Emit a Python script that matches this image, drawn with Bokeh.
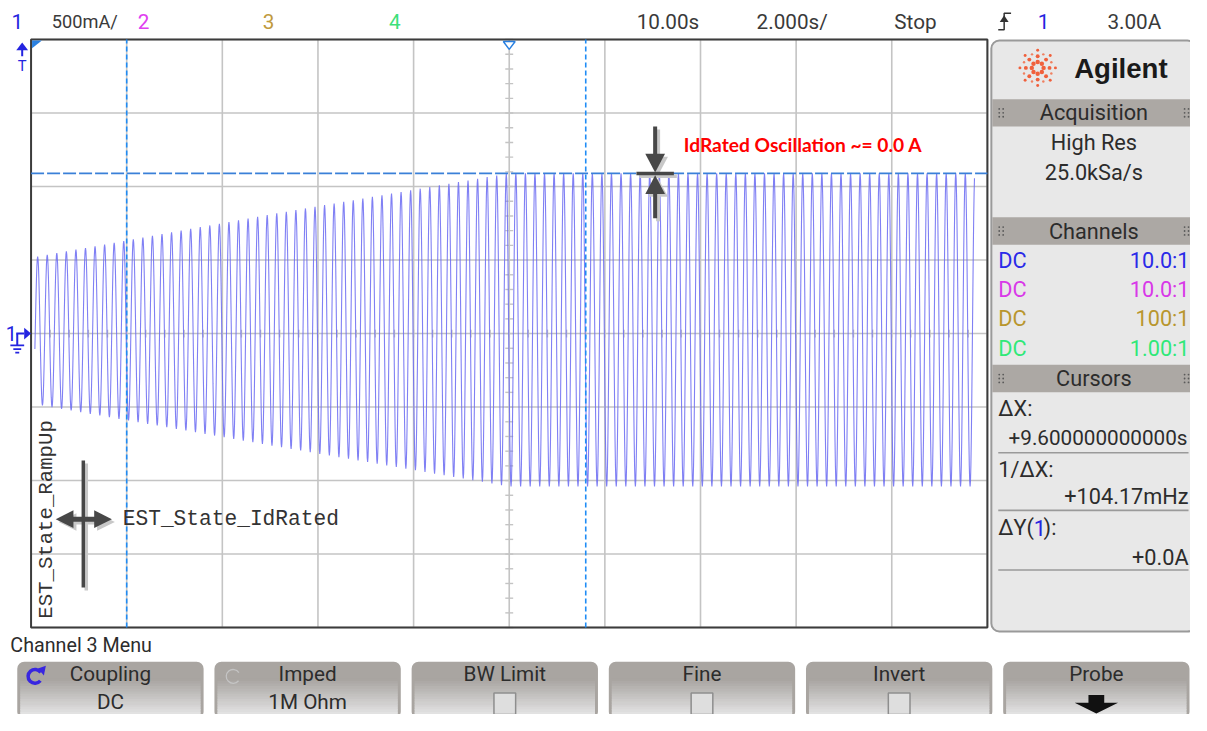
import numpy as np
from bokeh.plotting import figure
from bokeh.models import Range1d
from bokeh.core.properties import value
from bokeh.embed import file_html
from bokeh.resources import INLINE

# ---------------- values ----------------
time_per_div_s = 2.0
amp_per_div_A = 0.5
grid_time_s = [0, 2, 4, 6, 8, 10, 12, 14, 16, 18, 20]
grid_amp_A = [-2.0, -1.5, -1.0, -0.5, 0.0, 0.5, 1.0, 1.5, 2.0]
env_time_s = [0.08, 5.0, 10.0, 19.73]
env_top_A = [0.52, 0.81, 1.09, 1.09]
env_bot_A = [-0.48, -0.76, -1.04, -1.04]
osc_freq_Hz = 5.0
first_peak_s = 0.138
cursor_x_s = [2.0, 11.6]
cursor_y_A = 1.09

top_labels = ["1", "500mA/", "2", "3", "4", "10.00s", "2.000s/", "Stop", "1", "3.00A"]
top_colors = ["#2424e0", "#3a3a3a", "#e040f0", "#c09a3c", "#3ce07a",
              "#3a3a3a", "#3a3a3a", "#3a3a3a", "#2424e0", "#3a3a3a"]
ch_coupling = ["DC", "DC", "DC", "DC"]
ch_probe = ["10.0:1", "10.0:1", "100:1", "1.00:1"]
ch_colors = ["#2a2ae8", "#d838e8", "#b8962e", "#30e878"]
cursor_rows = ["\u0394X:", "+9.600000000000s", "1/\u0394X:", "+104.17mHz", "+0.0A"]
btn_titles = ["Coupling", "Imped", "BW Limit", "Fine", "Invert", "Probe"]
btn_values = ["DC", "1M Ohm", "", "", "", ""]
annot_state1 = "EST_State_RampUp"
annot_state2 = "EST_State_IdRated"
annot_osc = "IdRated Oscillation ~= 0.0 A"

# ---------------- figure / coordinate systems ----------------
W, H = 1190, 714
REFW, REFH = 1207, 731
SC = W / REFW
X0PX, PXPERS = 31.0, 48.5      # grid left edge, pixels per second
Y0PX, PXPERA = 341.0, 150.5    # zero line, pixels per ampere

def fs(n):
    return f"{n*SC:.1f}px"

p = figure(width=W, height=H, output_backend="svg", toolbar_location=None,
           x_range=Range1d(-X0PX / PXPERS, (REFW - X0PX) / PXPERS),
           y_range=Range1d(-(REFH - Y0PX) / PXPERA, Y0PX / PXPERA),
           x_axis_location=None, y_axis_location=None, min_border=0)
p.extra_x_ranges = {"px": Range1d(0, REFW)}
p.extra_y_ranges = {"px": Range1d(REFH, 0)}
p.outline_line_color = None
p.xgrid.visible = False
p.ygrid.visible = False
p.background_fill_color = "white"
p.border_fill_color = "white"
PX = dict(x_range_name="px", y_range_name="px")

SANS = value("Roboto")
MONO = value("Liberation Mono")

def txt(x, y, s, size, color="#333333", align="left", base="middle", font=SANS,
        style="normal", angle=0):
    p.text(x=[x], y=[y], text=[s], text_font=font, text_font_size=fs(size),
           text_color=color, text_align=align, text_baseline=base,
           text_font_style=style, angle=angle, **PX)

# ---------------- graticule ----------------
t0, t1 = grid_time_s[0], grid_time_s[-1]
a0, a1 = grid_amp_A[0], grid_amp_A[-1]
p.segment(x0=grid_time_s, y0=[a0]*len(grid_time_s), x1=grid_time_s, y1=[a1]*len(grid_time_s),
          line_color="#c4c4c4", line_width=1.6)
p.segment(x0=[t0]*len(grid_amp_A), y0=grid_amp_A, x1=[t1]*len(grid_amp_A), y1=grid_amp_A,
          line_color="#c4c4c4", line_width=1.6)
# minor ticks on the centre lines
tc = (t0 + t1) / 2
minor_a = np.arange(a0, a1 + 1e-9, amp_per_div_A / 5)
p.segment(x0=tc - 4/PXPERS, y0=minor_a, x1=tc + 4/PXPERS, y1=minor_a, line_color="#c4c4c4", line_width=1.4)
minor_t = np.arange(t0, t1 + 1e-9, time_per_div_s / 5)
p.segment(x0=minor_t, y0=-4/PXPERA, x1=minor_t, y1=4/PXPERA, line_color="#c4c4c4", line_width=1.4)
# border
p.quad(left=[t0], right=[t1], bottom=[a0], top=[a1], fill_color=None,
       line_color="#3c3c3c", line_width=2)

# ---------------- waveform (channel 1) ----------------
t = np.arange(env_time_s[0], env_time_s[-1], 1 / (osc_freq_Hz * 24))
top = np.interp(t, env_time_s, env_top_A)
bot = np.interp(t, env_time_s, env_bot_A)
sig = (top + bot) / 2 + (top - bot) / 2 * np.cos(2 * np.pi * osc_freq_Hz * (t - first_peak_s))
p.line(t, sig, line_color="#6a6af2", line_width=1.1, line_alpha=0.85)

# ---------------- cursors ----------------
p.segment(x0=cursor_x_s, y0=[a0, a0], x1=cursor_x_s, y1=[a1, a1],
          line_color="#1f8cf5", line_width=1.6, line_dash="5 3")
p.segment(x0=[t0], y0=[cursor_y_A], x1=[t1], y1=[cursor_y_A],
          line_color="#3a80d8", line_width=1.6, line_dash="13 3")

# ---------------- top status bar ----------------
top_x = [17, 52, 145, 272, 400, 677, 803, 928, 1058, 1150]
top_al = ["center", "left", "center", "center", "center", "center", "center", "center", "center", "center"]
top_sz = [21, 18.5, 21, 21, 21, 21, 21, 21, 21, 21]
for s, c, x, al, sz in zip(top_labels, top_colors, top_x, top_al, top_sz):
    txt(x, 22, s, sz, color=c, align=al)
# trigger edge symbol
p.line(x=[1012, 1018, 1018, 1025], y=[30, 30, 13, 13], line_color="#333333", line_width=1.5, **PX)
p.patch(x=[1013.5, 1022.5, 1018], y=[22, 22, 15], fill_color="#333333", line_color=None, **PX)

# ---------------- markers on the graticule ----------------
# trigger level arrow + "T"
p.patch(x=[16, 28, 22], y=[51, 51, 43], fill_color="#2424e0", line_color=None, **PX)
p.segment(x0=[22], y0=[50], x1=[22], y1=[57], line_color="#2424e0", line_width=2, **PX)
txt(22, 67, "T", 15, color="#2424e0", align="center")
# time reference
p.patch(x=[32, 42, 32], y=[41, 41, 49], fill_color="#2a80e0", line_color=None, **PX)
# trigger position (hollow triangle)
p.patch(x=[510, 522, 516], y=[42, 42, 50], fill_color="white", line_color="#2a80e0", line_width=1.5, **PX)
# channel 1 ground marker
txt(11, 341, "1", 20, color="#2424e0", align="center")
p.segment(x0=[16], y0=[341], x1=[24], y1=[341], line_color="#2424e0", line_width=2, **PX)
p.patch(x=[24, 24, 31], y=[335, 347, 341], fill_color="#2424e0", line_color=None, **PX)
p.segment(x0=[17], y0=[341], x1=[17], y1=[353], line_color="#2424e0", line_width=2, **PX)
p.segment(x0=[10, 13, 15], y0=[353, 357, 360.5], x1=[24, 21, 19], y1=[353, 357, 360.5],
          line_color="#2424e0", line_width=1.8, **PX)

# ---------------- annotations ----------------
txt(47, 633, annot_state1, 21, color="#333333", font=MONO, angle=np.pi/2)
txt(124, 531, annot_state2, 21.5, color="#333333", font=MONO)
# double horizontal arrow with vertical bar (shadow + dark)
for dx, col in [(3, "#c8c8c8"), (0, "#474747")]:
    p.segment(x0=[84+dx], y0=[471+dx], x1=[84+dx], y1=[601+dx], line_color=col, line_width=3.5, **PX)
    p.segment(x0=[70+dx], y0=[531+dx], x1=[100+dx], y1=[531+dx], line_color=col, line_width=5, **PX)
    p.patch(x=[56+dx, 74+dx, 74+dx], y=[531+dx, 522+dx, 540+dx], fill_color=col, line_color=None, **PX)
    p.patch(x=[113+dx, 95+dx, 95+dx], y=[531+dx, 522+dx, 540+dx], fill_color=col, line_color=None, **PX)
# vertical pinch arrows at the horizontal cursor
for dx, col in [(3, "#c8c8c8"), (0, "#474747")]:
    p.segment(x0=[664+dx], y0=[129+dx], x1=[664+dx], y1=[160+dx], line_color=col, line_width=4, **PX)
    p.patch(x=[654+dx, 674+dx, 664+dx], y=[157+dx, 157+dx, 176+dx], fill_color=col, line_color=None, **PX)
    p.segment(x0=[645+dx], y0=[177+dx], x1=[683+dx], y1=[177+dx], line_color=col, line_width=3.5, **PX)
    p.patch(x=[654+dx, 674+dx, 664+dx], y=[198+dx, 198+dx, 179+dx], fill_color=col, line_color=None, **PX)
    p.segment(x0=[664+dx], y0=[196+dx], x1=[664+dx], y1=[223+dx], line_color=col, line_width=4, **PX)
txt(693, 147, annot_osc, 19.5, color="#ff0000", font=value("Lato"), style="bold")

# ---------------- right-hand panel ----------------
p.quad(left=[1005], right=[1212], top=[41], bottom=[646], fill_color="#e8e8e8",
       line_color="#9a9a9a", line_width=2, border_radius=8, **PX)
# logo
cx, cy = 1052, 69
for k in range(8):
    ang = k * np.pi / 4
    for r, sz in [(6, 4.5), (12, 4), (18, 3)]:
        p.scatter(x=[cx + r*np.cos(ang)], y=[cy + r*np.sin(ang)], size=sz*SC,
                  fill_color="#f0603c", line_color=None, **PX)
    ang2 = ang + np.pi / 8
    p.scatter(x=[cx + 15*np.cos(ang2)], y=[cy + 15*np.sin(ang2)], size=2.5*SC,
              fill_color="#f08060", line_color=None, **PX)
txt(1089, 70, "Agilent", 28, color="#1a1a1a", font=value("Liberation Sans"), style="bold")

headers = [("Acquisition", 101, 129), ("Channels", 222, 250), ("Cursors", 373, 401)]
for name, yt, yb in headers:
    p.quad(left=[1006], right=[1207], top=[yt], bottom=[yb], fill_color="#aca8a4", line_color=None, **PX)
    txt(1109, (yt+yb)/2, name, 22, color="#2c2c2c", align="center")
    for gx in (1013, 1201):
        for gy in (-3, 1, 5):
            p.scatter(x=[gx, gx+4], y=[(yt+yb)/2+gy-1]*2, size=1.8, fill_color="#5a5a5a",
                      line_color=None, **PX)
txt(1109, 145, "High Res", 22, color="#2c2c2c", align="center")
txt(1109, 176, "25.0kSa/s", 22, color="#2c2c2c", align="center")
for i, (cpl, prb, col) in enumerate(zip(ch_coupling, ch_probe, ch_colors)):
    yy = 266 + 30*i
    txt(1012, yy, cpl, 22, color=col)
    txt(1206, yy, prb, 22, color=col, align="right")
txt(1012, 418, cursor_rows[0], 22, color="#2c2c2c")
txt(1204, 448, cursor_rows[1], 21, color="#2c2c2c", align="right")
txt(1012, 480, cursor_rows[2], 22, color="#2c2c2c")
txt(1205, 508, cursor_rows[3], 22, color="#2c2c2c", align="right")
txt(1012, 540, "\u0394Y(", 22, color="#2c2c2c")
txt(1048, 540, "1", 22, color="#2424e0")
txt(1058, 540, "):", 22, color="#2c2c2c")
txt(1205, 570, cursor_rows[4], 22, color="#2c2c2c", align="right")
p.segment(x0=[1012]*3, y0=[463, 522, 583], x1=[1205]*3, y1=[463, 522, 583],
          line_color="#9a9a9a", line_width=1.6, **PX)

# ---------------- soft-key menu ----------------
txt(10, 660, "Channel 3 Menu", 20, color="#2c2c2c")
n_strips = 14
for i, (ttl, val) in enumerate(zip(btn_titles, btn_values)):
    xl, xr = 17 + 200*i, 206 + 200*i
    p.quad(left=[xl], right=[xr], top=[677], bottom=[735], fill_color="#a9a5a1",
           line_color=None, border_radius=7, **PX)
    for k in range(n_strips):
        f = k / (n_strips - 1)
        r = int(0xa9 + (0xe2 - 0xa9) * f); g = int(0xa5 + (0xe2 - 0xa5) * f); b = int(0xa1 + (0xe2 - 0xa1) * f)
        yt = 694 + k * (37 / n_strips)
        p.quad(left=[xl + 3], right=[xr - 3], top=[yt], bottom=[yt + 37 / n_strips + 0.6],
               fill_color=f"#{r:02x}{g:02x}{b:02x}", line_color=None, **PX)
    xc = (xl + xr) / 2
    txt(xc, 690, ttl, 21, color="#2c2c2c", align="center")
    if val:
        txt(xc, 718, val, 21, color="#2c2c2c", align="center")
    elif ttl != "Probe":
        p.quad(left=[xc - 11], right=[xc + 11], top=[709], bottom=[731], fill_color="#dedede",
               line_color="#8e8e8e", line_width=1.5, **PX)
    else:
        p.patch(x=[xc-8, xc+8, xc+8, xc+22, xc, xc-22, xc-8],
                y=[711, 711, 719, 719, 730, 719, 719], fill_color="#111111", line_color=None, **PX)
# rotate icons
p.arc(x=[35], y=[692], radius=7, start_angle=0.6, end_angle=5.6, line_color="#3826e0", line_width=3.5, **PX)
p.patch(x=[38, 46, 44], y=[684, 681, 691], fill_color="#3826e0", line_color=None, **PX)
p.arc(x=[236], y=[692], radius=7, start_angle=0.6, end_angle=5.6, line_color="#c4c4c4", line_width=1.3, **PX)

open("out.html", "w").write(file_html(p, INLINE))
